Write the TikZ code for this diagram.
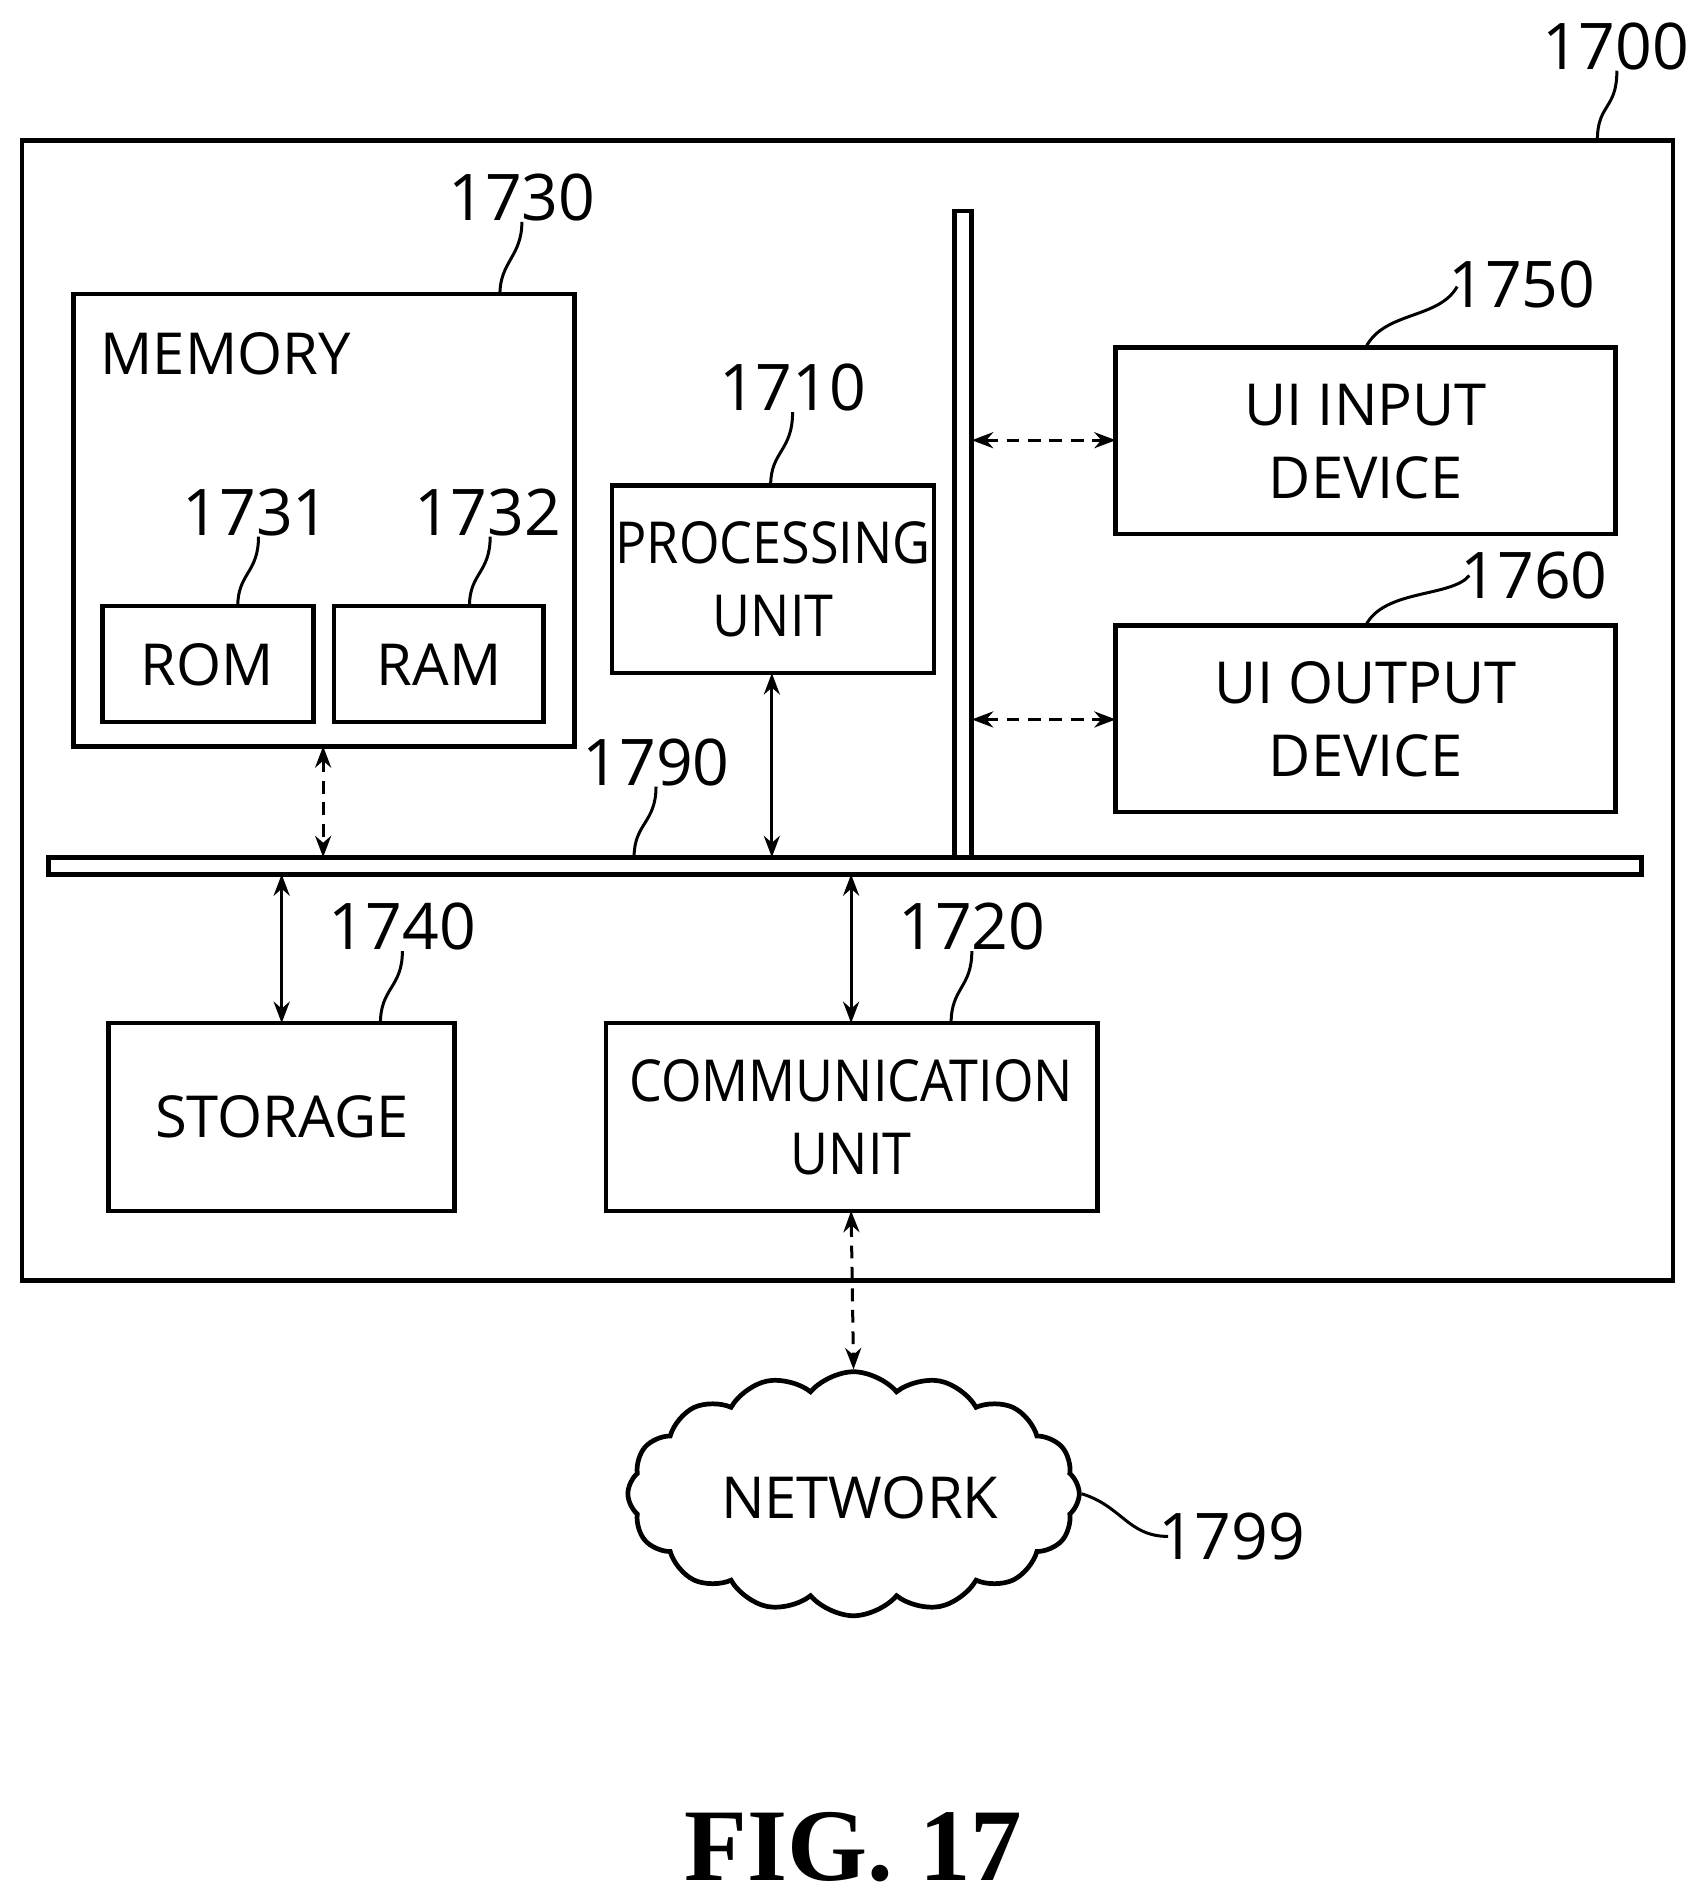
\documentclass[tikz,border=0pt]{standalone}
\usepackage{fontspec}
\setmainfont{Open Sans}
\newfontfamily\figfont{Liberation Serif}
\usetikzlibrary{shapes.symbols,arrows.meta}
\begin{document}
\begin{tikzpicture}[x=0.01cm,y=-0.01cm,
  box/.style={draw,line width=1.1pt,inner sep=0pt},
  lbl/.style={font=\fontsize{13.5}{17}\selectfont},
  num/.style={font=\fontsize{15}{17}\selectfont},
  lead/.style={line width=0.7pt},
  arr/.style={line width=0.7pt,{Stealth[length=5pt]}-{Stealth[length=5pt]}},
  darr/.style={arr,densely dashed}]
\useasboundingbox (0,0) rectangle (1390,1559);
\draw[box] (18,115) rectangle (1372,1050);
\node[num] (n1700) at (1325,38) {1700};
\draw[lead] (1310,115) .. controls (1310,85) and (1326,90) .. (1326,58);
% memory
\draw[box] (60,241) rectangle (471,612);
\node[lbl] (mem) at (185,290) {MEMORY};
\node[num] (n1730) at (428,162) {1730};
\draw[lead] (410,241) .. controls (410,215) and (428,210) .. (428,182);
\draw[box] (84,497) rectangle (257,592); \node[lbl] (rom) at (170,545) {ROM};
\draw[box] (274,497) rectangle (446,592); \node[lbl] (ram) at (360,545) {RAM};
\node[num] (n1731) at (210,420) {1731};
\draw[lead] (195,497) .. controls (195,470) and (212,470) .. (212,440);
\node[num] (n1732) at (400,420) {1732};
\draw[lead] (385,497) .. controls (385,470) and (402,470) .. (402,440);
% processing
\draw[box] (502,398) rectangle (766,552);
\node[lbl,align=center,xscale=0.9] (proc) at (634,475) {PROCESSING\\UNIT};
\node[num] (n1710) at (650,318) {1710};
\draw[lead] (632,398) .. controls (632,370) and (650,370) .. (650,338);
% buses
\draw[box] (783,173) rectangle (797,703);
\draw[box] (40,703) rectangle (1346,717);
\node[num] (n1790) at (538,625) {1790};
\draw[lead] (520,703) .. controls (520,675) and (538,675) .. (538,645);
% UI
\draw[box] (915,285) rectangle (1325,438);
\node[lbl,align=center] (uin) at (1120,362) {UI INPUT\\DEVICE};
\node[num] (n1750) at (1248,233) {1750};
\draw[lead] (1120,285) .. controls (1135,255) and (1180,262) .. (1195,235);
\draw[box] (915,513) rectangle (1325,666);
\node[lbl,align=center] (uout) at (1120,590) {UI OUTPUT\\DEVICE};
\node[num] (n1760) at (1258,472) {1760};
\draw[lead] (1120,513) .. controls (1135,483) and (1190,490) .. (1205,472);
% storage, comm
\draw[box] (89,839) rectangle (373,993);
\node[lbl] (stor) at (231,916) {STORAGE};
\node[num] (n1740) at (330,760) {1740};
\draw[lead] (312,839) .. controls (312,810) and (330,810) .. (330,780);
\draw[box] (497,839) rectangle (900,993);
\node[lbl,align=center,xscale=0.9] (comm) at (698,916) {COMMUNICATION\\UNIT};
\node[num] (n1720) at (797,760) {1720};
\draw[lead] (780,839) .. controls (780,810) and (797,810) .. (797,780);
% arrows
\coordinate (a1) at (265,612); \coordinate (b1) at (265,703);
\draw[darr] (a1) -- (b1);
\coordinate (a2) at (633,552); \coordinate (b2) at (633,703);
\draw[arr] (a2) -- (b2);
\coordinate (a3) at (231,717); \coordinate (b3) at (231,839);
\draw[arr] (a3) -- (b3);
\coordinate (a4) at (698,717); \coordinate (b4) at (698,839);
\draw[arr] (a4) -- (b4);
\coordinate (a5) at (797,361); \coordinate (b5) at (915,361);
\draw[darr] (a5) -- (b5);
\coordinate (a6) at (797,590); \coordinate (b6) at (915,590);
\draw[darr] (a6) -- (b6);
% network
\node[cloud,draw,line width=1.1pt,cloud puffs=16,cloud puff arc=100,aspect=1.85,
  minimum width=3.7cm,minimum height=2cm,inner sep=0pt] (net) at (700,1225) {};
\node[lbl] (netl) at (705,1228) {NETWORK};
\coordinate (a7) at (698,993);
\draw[darr] (a7) -- (net.north);
\node[num] (n1799) at (1010,1260) {1799};
\draw[lead] (net.east) .. controls (920,1235) and (925,1260) .. (958,1260);
\node[font=\figfont\bfseries\fontsize{24}{26}\selectfont] (fig) at (700,1515) {FIG. 17};
\end{tikzpicture}
\end{document}
